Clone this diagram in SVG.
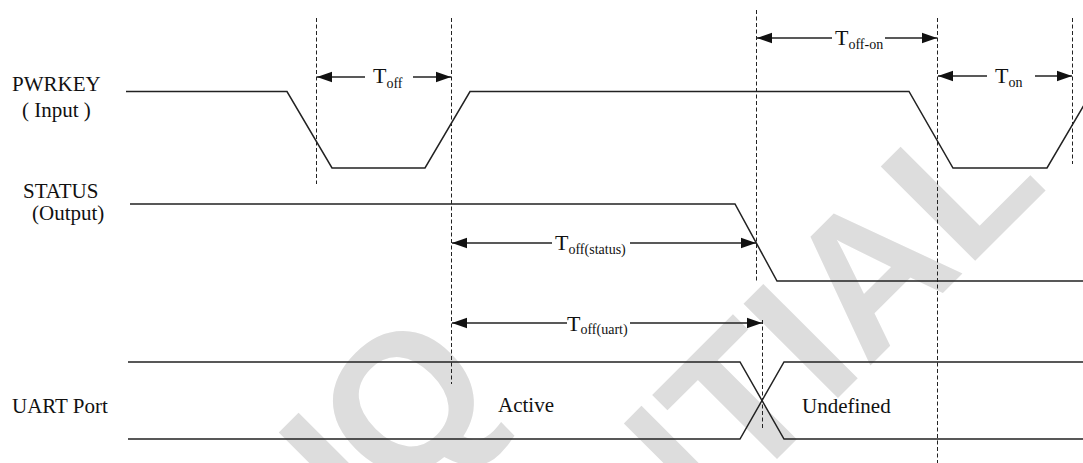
<svg xmlns="http://www.w3.org/2000/svg" width="1083" height="463" viewBox="0 0 1083 463">
  <defs>
    <style>
      .wm { font-family: "Liberation Sans", Arial, sans-serif; font-weight: bold; font-size: 194px; fill: #dddddd; }
      .lbl { font-family: "Liberation Serif", "Times New Roman", serif; font-size: 21px; fill: #111; }
      .t { font-family: "Liberation Serif", "Times New Roman", serif; font-size: 22px; fill: #111; }
      .sub { font-size: 14px; }
      .wave { fill: none; stroke: #222; stroke-width: 1.5; stroke-linejoin: miter; }
      .guide { fill: none; stroke: #222; stroke-width: 1; stroke-dasharray: 4 2.5; }
      .dim { fill: none; stroke: #222; stroke-width: 1.3; marker-end: url(#ah); }
    </style>
    <marker id="ah" markerUnits="userSpaceOnUse" markerWidth="16" markerHeight="12" viewBox="0 0 16 12" refX="15" refY="6" orient="auto">
      <path d="M0,0.8 L15,6 L0,11.2 Z" fill="#111"/>
    </marker>
  </defs>

  <rect width="1083" height="463" fill="#fff"/>

  <g id="watermark">
    <text class="wm" transform="translate(364,536) rotate(-45)"><tspan>I</tspan><tspan dx="-6">Q</tspan></text>
    <text class="wm" transform="translate(646,590) rotate(-45)">NTIAL</text>
  </g>

  <g id="guides">
    <line class="guide" x1="316.5" y1="18" x2="316.5" y2="184"/>
    <line class="guide" x1="451.5" y1="18" x2="451.5" y2="384"/>
    <line class="guide" x1="756.5" y1="10" x2="756.5" y2="281"/>
    <line class="guide" x1="762.5" y1="320" x2="762.5" y2="428"/>
    <line class="guide" x1="937.5" y1="18" x2="937.5" y2="463"/>
    <line class="guide" x1="1072.5" y1="18" x2="1072.5" y2="164"/>
  </g>

  <g id="pwrkey">
    <text class="lbl" x="12" y="90.5">PWRKEY</text>
    <text class="lbl" x="22" y="116.5">( Input )</text>
    <polyline class="wave" points="126,91.5 287,91.5 332,168 425,168 470,91.5 909,91.5 953,168 1047,168 1092,91.5"/>
  </g>

  <g id="status">
    <text class="lbl" x="23" y="197.5">STATUS</text>
    <text class="lbl" x="32" y="220">(Output)</text>
    <polyline class="wave" points="130,204 735,204 777,281 1083,281"/>
  </g>

  <g id="uart">
    <text class="lbl" x="12" y="413">UART Port</text>
    <polyline class="wave" points="128,362 740,362 784,439 1083,439"/>
    <polyline class="wave" points="128,439 740,439 784,362 1083,362"/>
    <text class="lbl" x="498" y="412">Active</text>
    <text class="lbl" x="802" y="413">Undefined</text>
  </g>

  <g id="connectors">
    <line class="dim" x1="365" y1="77" x2="317" y2="77"/>
    <line class="dim" x1="413" y1="77" x2="451" y2="77"/>
    <line class="dim" x1="832" y1="38" x2="757" y2="38"/>
    <line class="dim" x1="885" y1="38" x2="937" y2="38"/>
    <line class="dim" x1="987" y1="76" x2="938" y2="76"/>
    <line class="dim" x1="1035" y1="76" x2="1072" y2="76"/>
    <line class="dim" x1="552" y1="243" x2="452" y2="243"/>
    <line class="dim" x1="630" y1="243" x2="756" y2="243"/>
    <line class="dim" x1="567" y1="323" x2="452" y2="323"/>
    <line class="dim" x1="630" y1="323" x2="762" y2="323"/>
  </g>

  <g id="timing-labels">
    <text class="t" x="373" y="83">T<tspan class="sub" dy="4.5">off</tspan></text>
    <text class="t" x="835" y="45">T<tspan class="sub" dy="4">off-on</tspan></text>
    <text class="t" x="995" y="83">T<tspan class="sub" dy="3.5">on</tspan></text>
    <text class="t" x="555" y="250">T<tspan class="sub" dy="4">off(status)</tspan></text>
    <text class="t" x="567" y="331">T<tspan class="sub" dy="2.5">off(uart)</tspan></text>
  </g>
</svg>
